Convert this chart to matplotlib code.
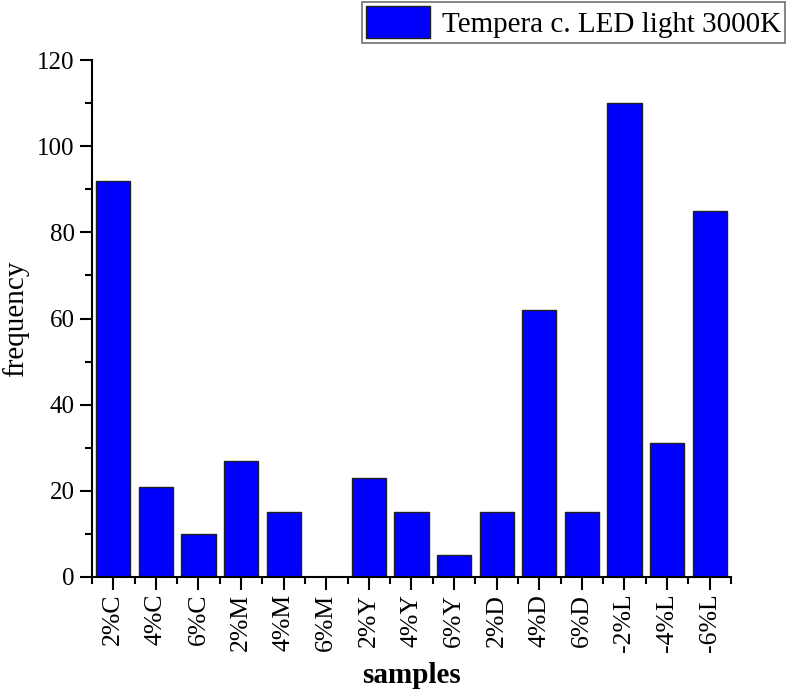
import numpy as np
import matplotlib
matplotlib.use("Agg")
import matplotlib.pyplot as plt
from matplotlib.ticker import MultipleLocator, FixedLocator

samples = ["2%C", "4%C", "6%C", "2%M", "4%M", "6%M", "2%Y", "4%Y", "6%Y",
           "2%D", "4%D", "6%D", "-2%L", "-4%L", "-6%L"]
frequency = [92, 21, 10, 27, 15, 0, 23, 15, 5, 15, 62, 15, 110, 31, 85]
series_name = "Tempera c. LED light 3000K"

plt.rcParams['font.family'] = ['Liberation Serif', 'DejaVu Serif']

fig = plt.figure(figsize=(7.86, 6.93), dpi=100)
ax = fig.add_axes([0.117, 0.1674, 0.813, 0.746])

x = np.arange(len(samples))
ax.bar(x, frequency, width=0.8, color="#0000ff", edgecolor="#202020",
       linewidth=1.0, label=series_name)

ax.set_xlim(-0.5, len(samples) - 0.5)
ax.set_ylim(0, 120)
ax.spines['top'].set_visible(False)
ax.spines['right'].set_visible(False)
ax.spines['left'].set_linewidth(1.5)
ax.spines['bottom'].set_linewidth(1.5)

ax.set_xticks(x)
ax.set_xticklabels(samples, rotation=90, fontsize=18.5)
ax.xaxis.set_minor_locator(FixedLocator(np.arange(-0.5, len(samples), 1.0)))
ax.yaxis.set_major_locator(MultipleLocator(20))
ax.yaxis.set_minor_locator(MultipleLocator(10))
ax.tick_params(axis='both', which='major', direction='out', length=9, width=1.5, labelsize=18)
ax.tick_params(axis='both', which='minor', direction='out', length=5, width=1.5)
ax.tick_params(axis='x', which='major', pad=3, labelsize=18.5)

ax.set_xlabel("samples", fontsize=21, fontweight='bold', labelpad=7)
ax.set_ylabel("frequency", fontsize=21, labelpad=6)

leg = fig.legend(loc='upper right', bbox_to_anchor=(0.999, 0.997), fontsize=21,
                 fancybox=False, framealpha=1, edgecolor="#707070",
                 handlelength=2.2, handleheight=1.3, borderpad=0.15,
                 handletextpad=0.4, borderaxespad=0)
leg.get_frame().set_linewidth(1.2)

fig.savefig("out.png", dpi=100)
